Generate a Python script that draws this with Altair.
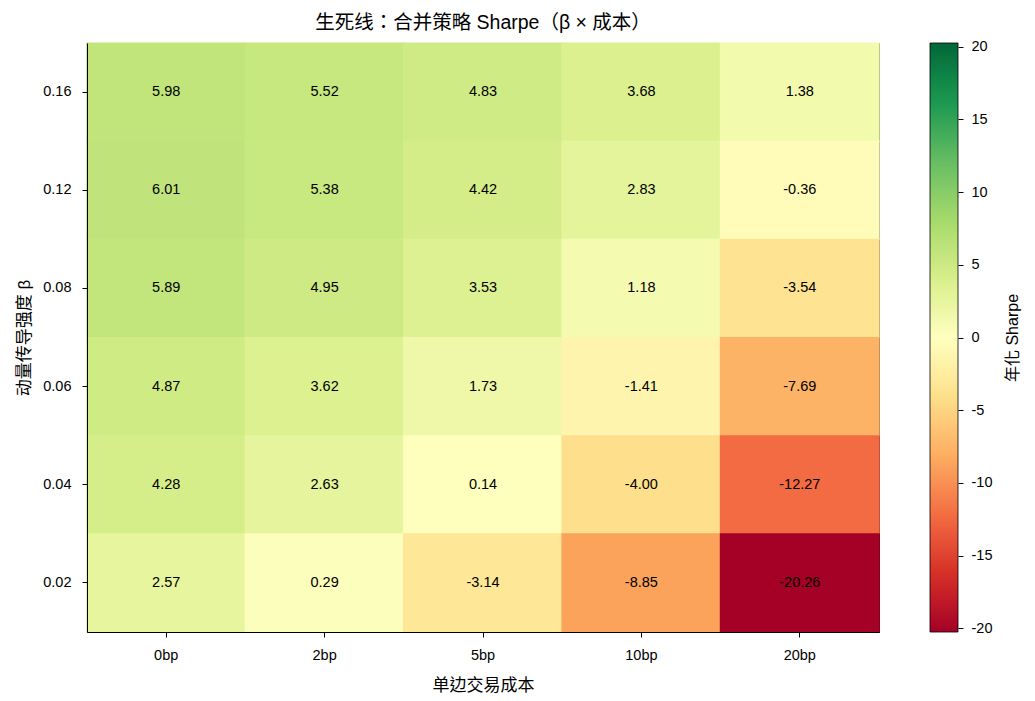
import altair as alt
import pandas as pd

costs = ["0bp", "2bp", "5bp", "10bp", "20bp"]
betas = ["0.16", "0.12", "0.08", "0.06", "0.04", "0.02"]
sharpe = [
    [5.98, 5.52, 4.83, 3.68, 1.38],
    [6.01, 5.38, 4.42, 2.83, -0.36],
    [5.89, 4.95, 3.53, 1.18, -3.54],
    [4.87, 3.62, 1.73, -1.41, -7.69],
    [4.28, 2.63, 0.14, -4.00, -12.27],
    [2.57, 0.29, -3.14, -8.85, -20.26],
]
cbar_ticks = [-20, -15, -10, -5, 0, 5, 10, 15, 20]
rdylgn = ['#a50026', '#d73027', '#f46d43', '#fdae61', '#fee08b', '#ffffbf',
          '#d9ef8b', '#a6d96a', '#66bd63', '#1a9850', '#006837']

rows = []
for i, b in enumerate(betas):
    for j, c in enumerate(costs):
        v = sharpe[i][j]
        rows.append({"beta": b, "cost": c, "v": v, "label": f"{v:.2f}"})
df = pd.DataFrame(rows)

vmax = 20.26
dom = [-vmax + k * (2 * vmax / 10) for k in range(11)]

FONT = "Liberation Sans, Arial, Noto Sans CJK TC"
TICK_FS = 14.5

base = alt.Chart(df)
heat = base.mark_rect(width=alt.RelativeBandSize(1.01),
                      height=alt.RelativeBandSize(1.01)).encode(
    x=alt.X("cost:N", sort=costs, title="单边交易成本",
            scale=alt.Scale(paddingInner=0, paddingOuter=0),
            axis=alt.Axis(labelAngle=0, labelPadding=11, titlePadding=16)),
    y=alt.Y("beta:N", sort=betas, title="动量传导强度 β",
            scale=alt.Scale(paddingInner=0, paddingOuter=0),
            axis=alt.Axis(labelPadding=11, titlePadding=9)),
    color=alt.Color("v:Q", scale=alt.Scale(domain=dom, range=rdylgn, interpolate="rgb"),
                    legend=alt.Legend(title=None, orient="none",
                                      legendX=843, legendY=0,
                                      direction="vertical", gradientLength=589,
                                      gradientThickness=28, values=cbar_ticks,
                                      gradientStrokeColor="black", gradientStrokeWidth=0.8,
                                      labelExpr="''", labelOpacity=0)),
)
text = base.mark_text(fontSize=TICK_FS, color="black", font=FONT).encode(
    x=alt.X("cost:N", sort=costs),
    y=alt.Y("beta:N", sort=betas),
    text="label:N",
)
cbar_axis = alt.Chart(pd.DataFrame({"cv": [-vmax, vmax]})).mark_rule(opacity=0).encode(
    y=alt.Y("cv:Q", scale=alt.Scale(domain=[-vmax, vmax], nice=False, zero=False),
            axis=alt.Axis(orient="right", offset=79, values=cbar_ticks, domain=False,
                          labelExpr="'' + datum.value", labelPadding=8,
                          title="年化 Sharpe", titleAngle=270, titleBaseline="top",
                          titlePadding=13, titleFontSize=16, grid=False)),
)

chart = alt.layer(alt.layer(heat, text), cbar_axis).resolve_scale(y="independent").properties(
    width=792, height=589,
    title=alt.TitleParams("生死线：合并策略 Sharpe（β × 成本）", fontSize=19.5,
                          font=FONT, fontWeight="normal", color="black", offset=5),
    autosize=alt.AutoSizeParams(type="none"),
    padding={"left": 87, "top": 43, "right": 156, "bottom": 69},
).configure_view(stroke="black", strokeWidth=1).configure_axis(
    labelFontSize=TICK_FS, labelColor="black", labelFont=FONT,
    titleFontSize=17, titleColor="black", titleFont=FONT, titleFontWeight="normal",
    tickColor="black", tickSize=5, domainColor="black", grid=False,
)

chart.save("out.html", embed_options={"renderer": "svg", "actions": False})
